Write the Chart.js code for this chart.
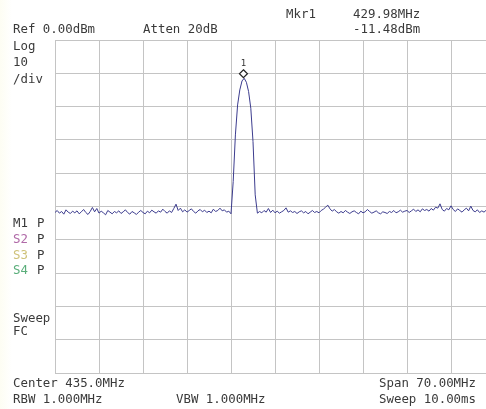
<!DOCTYPE html>
<html>
<head>
<meta charset="utf-8">
<script src="https://cdn.jsdelivr.net/npm/chart.js@4.4.1/dist/chart.umd.min.js"></script>
<style>
  html, body { margin:0; padding:0; width:486px; height:409px; overflow:hidden; background:#ffffff; }
  #wrap { position:relative; width:486px; height:409px; overflow:hidden; background:linear-gradient(90deg,#fdfdf3 0px,#ffffff 12px); }
  canvas { position:absolute; left:0; top:0; }
  .t { position:absolute; font-family:"DejaVu Sans Mono", monospace; font-size:12.4px; line-height:14px; color:#3a3a3a; white-space:pre; }
</style>
</head>
<body>
<div id="wrap">
<canvas id="c" width="500" height="409"></canvas>
</div>
<script>
// ---- sweep settings (axis) ----
const startFreq = 400.0;      // MHz (Center 435.0, Span 70.00)
const stopFreq = 470.0;
const freqStep = 0.35;        // MHz per trace point
const xTickStep = 7;          // MHz per division
const refLevel = 0;           // dBm
const bottomLevel = -100;     // dBm
const yTickStep = 10;         // dB/div

// ---- marker ----
const mkrFreq = 429.98;
const mkrLevel = -11.48;

// ---- trace levels (dBm), one per sweep point ----
const traceLevels = [
  -51.8,-51.2,-52.0,-51.5,-52.3,-51.0,-51.7,-52.1,-51.4,-51.9,
  -51.3,-52.2,-51.6,-50.9,-51.8,-52.4,-51.5,-50.3,-51.6,-50.6,
  -52.0,-51.4,-51.9,-52.5,-51.2,-51.7,-52.2,-51.5,-51.9,-51.3,
  -52.1,-51.6,-51.0,-51.8,-52.3,-51.5,-51.9,-52.4,-51.7,-51.2,
  -51.8,-52.2,-51.4,-51.9,-51.1,-51.6,-52.0,-51.3,-51.7,-50.8,
  -51.5,-52.0,-51.3,-51.8,-50.6,-49.3,-51.2,-50.5,-51.6,-51.0,
  -51.7,-51.2,-50.7,-51.5,-52.0,-51.3,-50.9,-51.6,-51.1,-51.8,
  -51.4,-51.9,-50.8,-51.5,-51.2,-50.5,-51.3,-51.0,-51.7,-51.4,
  -52.2,-42.5,-28.5,-19.5,-15.0,-12.3,-11.5,-12.7,-15.5,-20.5,
  -30.5,-46.5,-52.0,-51.5,-51.9,-51.2,-51.7,-50.6,-51.8,-51.1,
  -51.9,-51.4,-52.0,-51.6,-51.2,-50.4,-51.7,-51.3,-51.8,-51.5,
  -52.1,-51.6,-51.3,-51.9,-51.5,-52.2,-51.7,-51.2,-51.8,-51.5,
  -51.9,-51.2,-50.8,-50.2,-49.6,-50.7,-51.4,-50.9,-51.6,-52.0,
  -51.5,-51.9,-51.2,-51.7,-52.1,-51.6,-51.3,-51.8,-52.2,-51.4,
  -51.9,-51.6,-50.9,-51.5,-52.0,-51.7,-51.3,-51.9,-52.2,-51.6,
  -51.8,-52.1,-51.5,-51.8,-51.2,-51.9,-51.6,-51.1,-51.7,-51.4,
  -51.2,-51.8,-51.3,-50.8,-51.5,-51.0,-51.6,-50.7,-51.2,-50.9,
  -51.4,-50.6,-51.1,-50.2,-50.5,-49.2,-50.9,-51.4,-50.6,-51.0,
  -49.8,-50.9,-51.5,-50.7,-51.2,-51.7,-51.0,-50.5,-51.3,-49.9,
  -51.2,-51.6,-51.0,-51.8,-51.3,-51.7,-51.1,-51.5,-51.9,-51.4,
  -51.6
];

// ---- annotation texts ----
const headerTexts = [
  { text: "Ref 0.00dBm", x: 13, y: 29 },
  { text: "Atten 20dB", x: 143, y: 29 },
  { text: "Mkr1", x: 286, y: 14 },
  { text: "429.98MHz", x: 353, y: 14 },
  { text: "-11.48dBm", x: 353, y: 29 },
  { text: "Log", x: 13, y: 46 },
  { text: "10", x: 13, y: 62 },
  { text: "/div", x: 13, y: 79 },
  { text: "Sweep", x: 13, y: 318 },
  { text: "FC", x: 13, y: 331 },
  { text: "Center 435.0MHz", x: 13, y: 383 },
  { text: "RBW 1.000MHz", x: 13, y: 399 },
  { text: "VBW 1.000MHz", x: 176, y: 399 },
  { text: "Span 70.00MHz", x: 379, y: 383 },
  { text: "Sweep 10.00ms", x: 379, y: 399 }
];
const markerRows = [
  { name: "M1", color: "#3a3a3a", y: 223 },
  { name: "S2", color: "#b06aa8", y: 239 },
  { name: "S3", color: "#cfc27a", y: 255 },
  { name: "S4", color: "#5aae7a", y: 270 }
];

const wrap = document.getElementById('wrap');
function addText(txt, x, cy, color) {
  const d = document.createElement('div');
  d.className = 't';
  d.textContent = txt;
  d.style.left = x + 'px';
  d.style.top = (cy - 7) + 'px';
  if (color) d.style.color = color;
  wrap.appendChild(d);
}
headerTexts.forEach(t => addText(t.text, t.x, t.y));
markerRows.forEach(m => { addText(m.name, 13, m.y, m.color); addText("P", 37, m.y); });

const tracePoints = traceLevels.map((v, i) => ({ x: startFreq + i * freqStep, y: v }));

const markerPlugin = {
  id: 'mkr',
  afterDatasetsDraw(chart) {
    const ctx = chart.ctx;
    const px = chart.scales.x.getPixelForValue(mkrFreq);
    const py = chart.scales.y.getPixelForValue(mkrLevel);
    const cy = py - 4.5;
    ctx.save();
    ctx.beginPath();
    ctx.moveTo(px, cy - 4);
    ctx.lineTo(px + 4, cy);
    ctx.lineTo(px, cy + 4);
    ctx.lineTo(px - 4, cy);
    ctx.closePath();
    ctx.fillStyle = '#ffffff';
    ctx.fill();
    ctx.lineWidth = 1.2;
    ctx.strokeStyle = '#222222';
    ctx.stroke();
    ctx.fillStyle = '#333333';
    ctx.font = '9px "DejaVu Sans Mono"';
    ctx.textAlign = 'center';
    ctx.textBaseline = 'middle';
    ctx.fillText('1', px, cy - 10);
    ctx.restore();
  }
};

new Chart(document.getElementById('c'), {
  type: 'line',
  data: {
    datasets: [{
      data: tracePoints,
      borderColor: '#3c3c8e',
      borderWidth: 1,
      pointRadius: 0,
      tension: 0,
      fill: false
    }]
  },
  options: {
    responsive: false,
    animation: false,
    devicePixelRatio: 1,
    layout: { padding: { left: 55, top: 40, right: 5, bottom: 36 } },
    plugins: { legend: { display: false }, tooltip: { enabled: false } },
    scales: {
      x: {
        type: 'linear', min: startFreq, max: stopFreq,
        ticks: { display: false, stepSize: xTickStep },
        grid: { color: '#c4c4c4', lineWidth: 1, drawTicks: false },
        border: { display: true, color: '#c4c4c4' }
      },
      y: {
        type: 'linear', min: bottomLevel, max: refLevel,
        ticks: { display: false, stepSize: yTickStep },
        grid: { color: '#c4c4c4', lineWidth: 1, drawTicks: false },
        border: { display: true, color: '#c4c4c4' }
      }
    }
  },
  plugins: [markerPlugin]
});
</script>
</body>
</html>
